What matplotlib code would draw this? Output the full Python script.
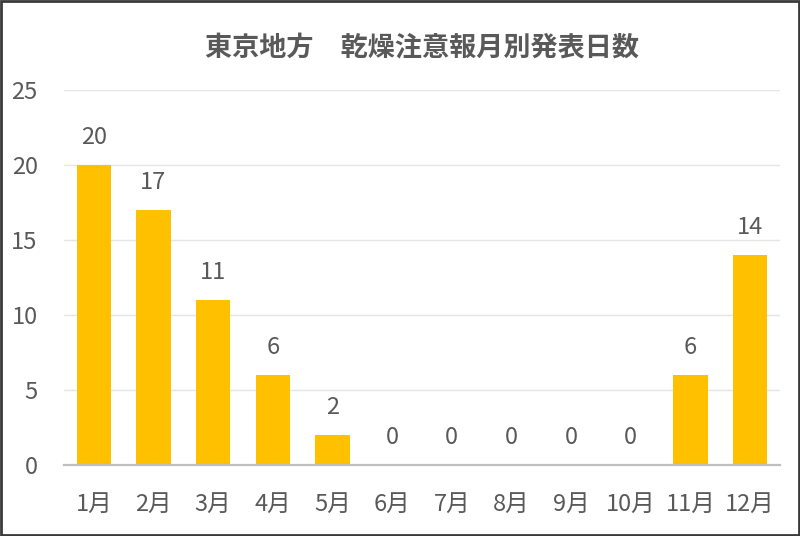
import matplotlib
matplotlib.use("Agg")
import matplotlib.pyplot as plt
from matplotlib.patches import Rectangle

plt.rcParams['font.family'] = ['Noto Sans CJK JP', 'DejaVu Sans']

# data
months = ["1月", "2月", "3月", "4月", "5月", "6月", "7月", "8月", "9月", "10月", "11月", "12月"]
days = [20, 17, 11, 6, 2, 0, 0, 0, 0, 0, 6, 14]
yticks = [0, 5, 10, 15, 20, 25]
title = "東京地方　乾燥注意報月別発表日数"

txt = "#595959"

fig = plt.figure(figsize=(8, 5.36), dpi=100)
ax = fig.add_axes([0.08, 0.1325, 0.895, 0.6995])

x = range(len(months))
ax.bar(x, days, width=0.57, color="#FFC000", zorder=3)

for i, v in zip(x, days):
    ax.annotate(str(v), (i, v), xytext=(0, 20), textcoords="offset points",
                ha="center", va="center", fontsize=17, color=txt)

ax.set_xlim(-0.5, len(months) - 0.5)
ax.set_ylim(0, 25)
ax.set_yticks(yticks)
ax.set_xticks(list(x))
ax.set_xticklabels(months)
ax.tick_params(axis="both", length=0, labelsize=17, labelcolor=txt)
ax.tick_params(axis="x", pad=20)
ax.tick_params(axis="y", pad=19)
ax.grid(axis="y", color="#E5E5E5", linewidth=1, zorder=0)

for s in ["top", "right", "left"]:
    ax.spines[s].set_visible(False)
ax.spines["bottom"].set_color("#BFBFBF")
ax.spines["bottom"].set_linewidth(1.6)
ax.spines["bottom"].set_zorder(4)

fig.text(0.527, 0.91, title, ha="center", va="center", fontsize=19.5,
         fontweight="bold", color=txt)

# outer frame
fig.patches.append(Rectangle((0.0015, 0.002), 0.997, 0.996, transform=fig.transFigure,
                             fill=False, edgecolor="#3A3A3A", linewidth=2))

fig.savefig("out.png", dpi=100)
